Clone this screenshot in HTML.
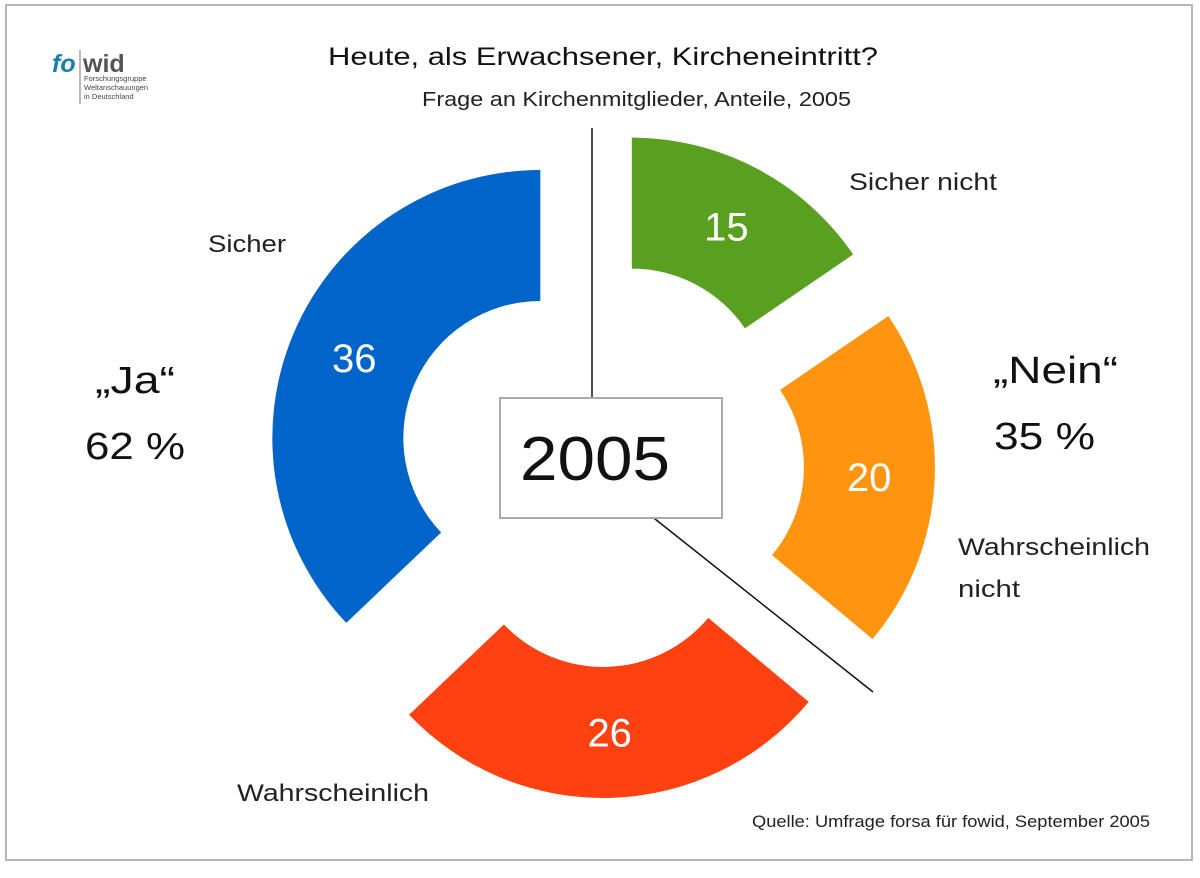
<!DOCTYPE html>
<html><head><meta charset="utf-8"><style>
body{margin:0;background:#fff;}
svg text{font-family:"Liberation Sans",sans-serif;}
</style></head><body>
<svg width="1200" height="873" viewBox="0 0 1200 873" xmlns="http://www.w3.org/2000/svg">
<rect x="6" y="5" width="1186" height="855" fill="#fff" stroke="#b5b5b5" stroke-width="2"/>
<g>
<text x="52" y="72" font-size="25" font-weight="bold" font-style="italic" fill="#1a7fa8">fo</text>
<text x="83" y="72" font-size="25" font-weight="bold" fill="#555">wid</text>
<line x1="80" y1="50" x2="80" y2="104" stroke="#777" stroke-width="1"/>
<text x="84" y="81" font-size="7.5" fill="#444">Forschungsgruppe</text>
<text x="84" y="90" font-size="7.5" fill="#444">Weltanschauungen</text>
<text x="84" y="99" font-size="7.5" fill="#444">in Deutschland</text>
</g>
<text x="328" y="65" font-size="25" textLength="550" lengthAdjust="spacingAndGlyphs" fill="#111">Heute, als Erwachsener, Kircheneintritt?</text>
<text x="422" y="106" font-size="20" textLength="429" lengthAdjust="spacingAndGlyphs" fill="#222">Frage an Kirchenmitglieder, Anteile, 2005</text>
<line x1="592" y1="128" x2="592" y2="398" stroke="#111" stroke-width="1.5"/>
<line x1="650" y1="515" x2="873" y2="692" stroke="#111" stroke-width="1.5"/>
<g id="donut"></g>
<rect x="500" y="398" width="222" height="120" fill="#fff" stroke="#aaa" stroke-width="2"/>
<text x="520" y="480" font-size="62" textLength="150" lengthAdjust="spacingAndGlyphs" fill="#111">2005</text>
<text x="208" y="252" font-size="24" textLength="78" lengthAdjust="spacingAndGlyphs" fill="#222">Sicher</text>
<text x="849" y="190" font-size="24" textLength="148" lengthAdjust="spacingAndGlyphs" fill="#222">Sicher nicht</text>
<text x="958" y="555" font-size="24" textLength="192" lengthAdjust="spacingAndGlyphs" fill="#222">Wahrscheinlich</text>
<text x="958" y="597" font-size="24" textLength="62" lengthAdjust="spacingAndGlyphs" fill="#222">nicht</text>
<text x="237" y="801" font-size="24" textLength="192" lengthAdjust="spacingAndGlyphs" fill="#222">Wahrscheinlich</text>
<text x="95" y="393" font-size="38" textLength="80" lengthAdjust="spacingAndGlyphs" fill="#111">„Ja“</text>
<text x="85" y="459" font-size="38" textLength="100" lengthAdjust="spacingAndGlyphs" fill="#111">62 %</text>
<text x="993" y="383" font-size="38" textLength="125" lengthAdjust="spacingAndGlyphs" fill="#111">„Nein“</text>
<text x="994" y="449" font-size="38" textLength="101" lengthAdjust="spacingAndGlyphs" fill="#111">35 %</text>
<text x="752" y="827" font-size="17" textLength="398" lengthAdjust="spacingAndGlyphs" fill="#222">Quelle: Umfrage forsa für fowid, September 2005</text>
</svg>
<script>
// clockwise from 12 o'clock: green, orange, red, blue
const categories = ["Sicher nicht", "Wahrscheinlich nicht", "Wahrscheinlich", "Sicher"];
const values = [15, 20, 26, 36];
const colors = ["#5aa020", "#ff9410", "#ff4010", "#0064c8"];
const CX = 601, CY = 464, R = 268, RI = 137, OFF = 66;
const total = values.reduce((a, b) => a + b, 0);
const g = document.getElementById('donut');
const NS = "http://www.w3.org/2000/svg";
function pt(cx, cy, r, a) { const t = a * Math.PI / 180; return [cx + r * Math.sin(t), cy - r * Math.cos(t)]; }
let start = 0;
values.forEach((v, i) => {
  const sweep = v / total * 360, end = start + sweep, mid = start + sweep / 2;
  const [cx, cy] = pt(CX, CY, OFF, mid);
  const p1 = pt(cx, cy, R, start), p2 = pt(cx, cy, R, end), p3 = pt(cx, cy, RI, end), p4 = pt(cx, cy, RI, start);
  const large = sweep > 180 ? 1 : 0;
  const path = document.createElementNS(NS, 'path');
  path.setAttribute('d', `M${p1} A${R},${R} 0 ${large} 1 ${p2} L${p3} A${RI},${RI} 0 ${large} 0 ${p4} Z`);
  path.setAttribute('fill', colors[i]);
  
  
  g.appendChild(path);
  const lp = pt(cx, cy, (R + RI) / 2, mid);
  const t = document.createElementNS(NS, 'text');
  t.setAttribute('x', lp[0]); t.setAttribute('y', lp[1] + 14);
  t.setAttribute('text-anchor', 'middle'); t.setAttribute('font-size', '40'); t.setAttribute('fill', '#fff');
  t.textContent = v;
  
  
  g.appendChild(t);
  start = end;
});
</script>
</body></html>
